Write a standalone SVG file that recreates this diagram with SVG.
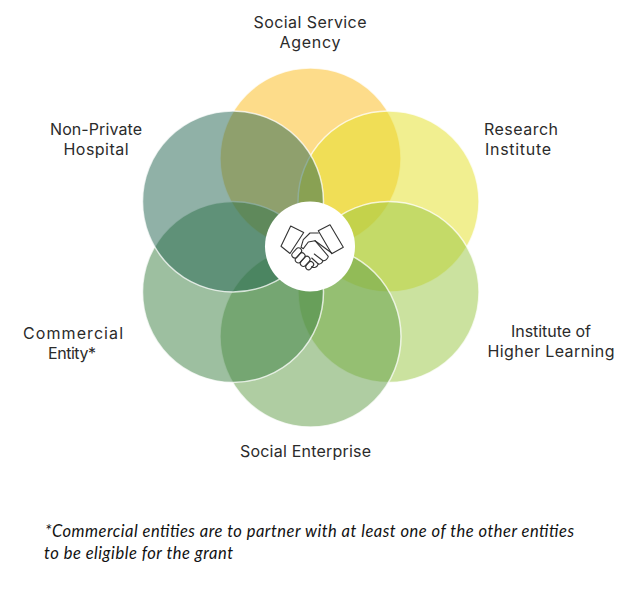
<svg xmlns="http://www.w3.org/2000/svg" width="639" height="592" viewBox="0 0 639 592">
<style>
.c{fill-opacity:.5;stroke:#fff;stroke-width:1.5;stroke-opacity:.75}
.l{font-family:"Inter","Liberation Sans",sans-serif;font-size:16px;fill:#2b2b2b;text-anchor:middle}
.n{font-family:"Lato","Liberation Sans",sans-serif;font-style:italic;font-size:16.5px;fill:#111}
.h{fill:none;stroke:#333;stroke-width:1.1;stroke-linejoin:round;stroke-linecap:round}
</style>
<rect width="639" height="592" fill="#fff"/>
<g id="node-social-service-agency"><circle class="c" cx="310.500" cy="158.500" r="90.500" fill="#fbb915"/><text class="l" x="310" y="28" textLength="113">Social Service</text><text class="l" x="310" y="48" textLength="61">Agency</text></g>
<g id="node-research-institute"><circle class="c" cx="388.500" cy="201.500" r="90.500" fill="#e3df21"/><text class="l" x="521" y="135" textLength="74">Research</text><text class="l" x="518" y="155" textLength="66">Institute</text></g>
<g id="node-institute-of-higher-learning"><circle class="c" cx="388.500" cy="292" r="90.500" fill="#97c53f"/><text class="l" x="551" y="337" textLength="80">Institute of</text><text class="l" x="551" y="357" textLength="127">Higher Learning</text></g>
<g id="node-social-enterprise"><circle class="c" cx="310.500" cy="336.500" r="90.500" fill="#5f9b45"/><text class="l" x="305.500" y="457" textLength="131">Social Enterprise</text></g>
<g id="node-commercial-entity"><circle class="c" cx="233" cy="292" r="90.500" fill="#3b7f41"/><text class="l" x="73" y="338.500" textLength="100">Commercial</text><text class="l" x="72" y="358.500" textLength="48">Entity*</text></g>
<g id="node-non-private-hospital"><circle class="c" cx="233" cy="201.500" r="90.500" fill="#21634f"/><text class="l" x="96" y="135" textLength="92">Non-Private</text><text class="l" x="96" y="155" textLength="65">Hospital</text></g>
<g id="node-center">
<circle cx="310" cy="246.500" r="45" fill="#fff"/>
<g class="h">
<path d="M290.700 226L303.700 232.500L290 253.500L281 246.300Z"/>
<path d="M318.300 230.700L330 224.700L343.300 247.300L331.700 253.700Z"/>
<path d="M318.300 233H310L303.300 239.700L301 247.300L303.300 248.700L308.300 242L315 240.700L331.700 253"/>
<path d="M315 240.700L328.300 256.300C328 259 325 261 323 260.700L314.300 254"/>
<path d="M323 260.700C322.500 263 320 264.500 318.300 264L311.700 258"/>
<path d="M318.300 264C317 267.500 314 268.500 311.700 266.500"/>
<rect x="291" y="250" width="11.500" height="6" rx="3" transform="rotate(-48 296.700 253)"/>
<rect x="294.500" y="255" width="11.500" height="6" rx="3" transform="rotate(-48 300 258)"/>
<rect x="299.500" y="258.500" width="11.500" height="6" rx="3" transform="rotate(-48 305 261.500)"/>
<rect x="305" y="263" width="9" height="5.500" rx="2.700" transform="rotate(-48 309.500 265.500)"/>
</g>
</g>
<g id="note">
<text class="n" x="45" y="537" textLength="529">*Commercial entities are to partner with at least one of the other entities</text>
<text class="n" x="44" y="559" textLength="189">to be eligible for the grant</text>
</g>
</svg>
